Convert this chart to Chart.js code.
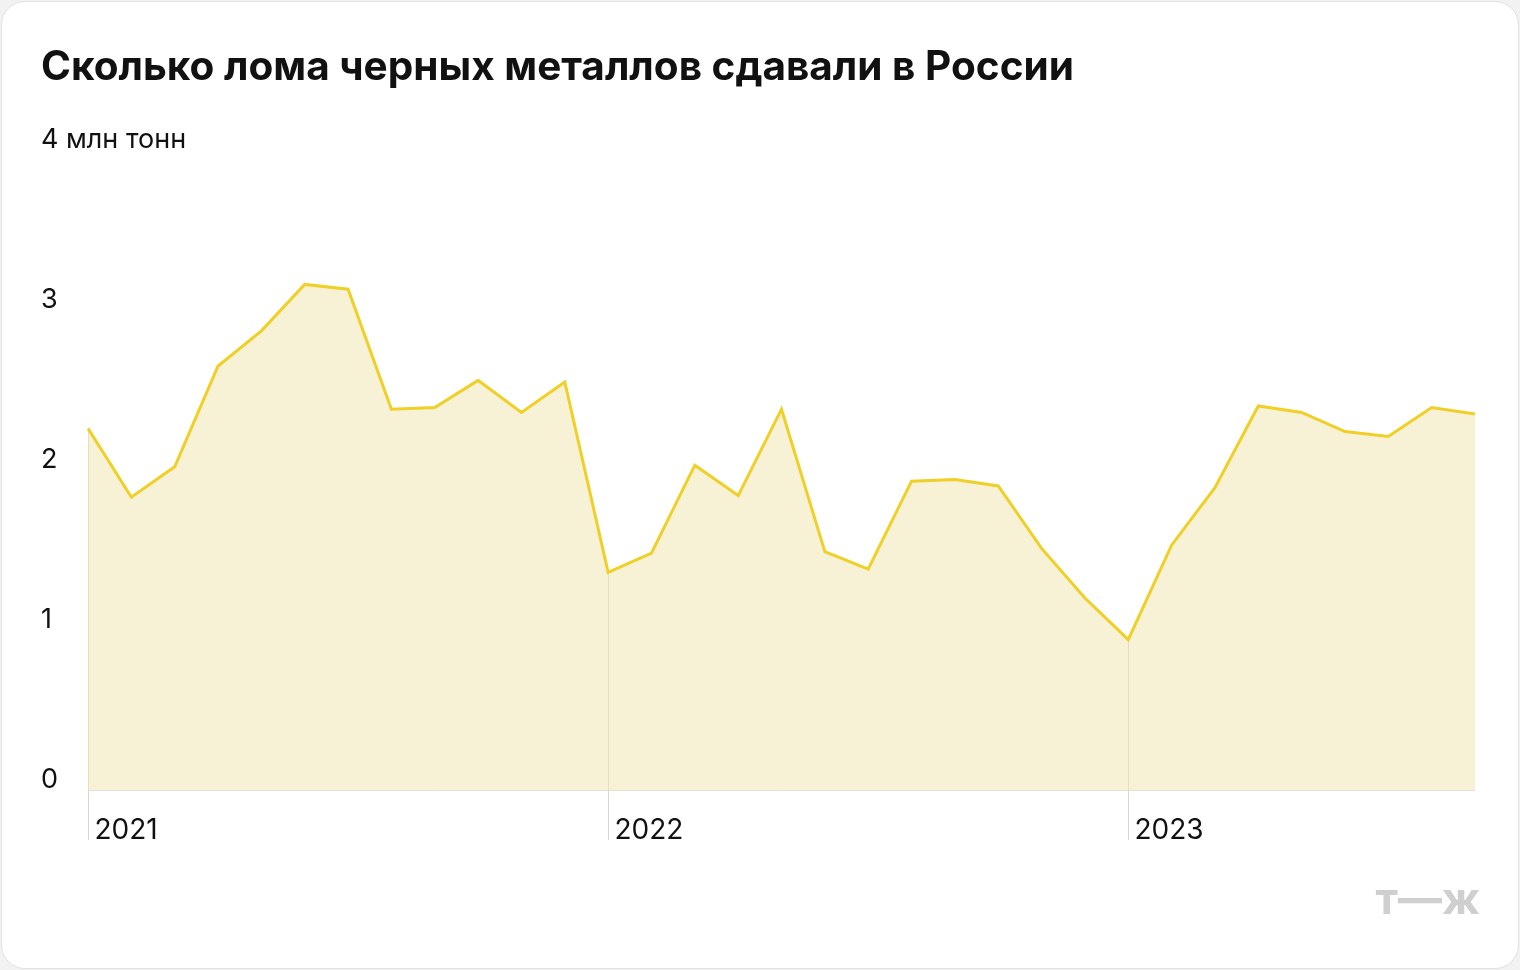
<!DOCTYPE html>
<html>
<head>
<meta charset="utf-8">
<script src="https://cdn.jsdelivr.net/npm/chart.js@4"></script>
<style>
  html, body { margin: 0; background: #f2f2f2; }
  .card { position: absolute; left: 1px; top: 1px; width: 1516px; height: 966px; background: #fff; border: 1px solid #e2e2e2; border-radius: 24px; overflow: hidden; }
  canvas { display: block; }
</style>
</head>
<body>
<div class="card"><canvas id="grafico" width="1516" height="966"></canvas></div>
<script>
// Лом черных металлов, млн тонн, январь 2021 — сентябрь 2023
const meses = [];
const anos = ["2021", "2022", "2023"];
for (let a = 0; a < anos.length; a++) {
  for (let m = 1; m <= 12; m++) meses.push(anos[a] + "-" + String(m).padStart(2, "0"));
}
const valores = [
  2.26, 1.83, 2.02, 2.65, 2.87, 3.16, 3.13, 2.38, 2.39, 2.56, 2.36, 2.55,
  1.36, 1.48, 2.03, 1.84, 2.38, 1.49, 1.38, 1.93, 1.94, 1.90, 1.51, 1.20,
  0.94, 1.53, 1.89, 2.40, 2.36, 2.24, 2.21, 2.39, 2.35
];
const rotulos = meses.slice(0, valores.length);
const marcasY = [0, 1, 2, 3, 4];

const fonte = "Inter, 'Noto Sans', sans-serif";

const desenhoExtra = {
  id: "desenhoExtra",
  beforeDatasetsDraw(chart) {
    const { ctx, chartArea } = chart;
    const x = chart.scales.x, y = chart.scales.y;
    ctx.save();
    ctx.strokeStyle = "#e0e0e0";
    ctx.lineWidth = 1;
    ctx.beginPath();
    ctx.moveTo(chartArea.left, y.getPixelForValue(0) + 0.5);
    ctx.lineTo(chartArea.right, y.getPixelForValue(0) + 0.5);
    ctx.stroke();
    rotulos.forEach((r, i) => {
      if (!r.endsWith("-01")) return;
      const px = Math.round(x.getPixelForValue(i)) + 0.5;
      ctx.strokeStyle = "#d8d8d0";
      ctx.beginPath();
      ctx.moveTo(px, y.getPixelForValue(valores[i]));
      ctx.lineTo(px, y.getPixelForValue(0) + 50);
      ctx.stroke();
      ctx.fillStyle = "#111";
      ctx.font = "28px " + fonte;
      ctx.textBaseline = "alphabetic";
      ctx.fillText(r.slice(0, 4), px + 6, y.getPixelForValue(0) + 49);
    });
    ctx.restore();
  },
  afterDraw(chart) {
    const { ctx } = chart;
    const y = chart.scales.y;
    ctx.save();
    ctx.fillStyle = "#111";
    ctx.font = "bold 40.5px " + fonte;
    ctx.textBaseline = "alphabetic";
    ctx.fillText("Сколько лома черных металлов сдавали в России", 39, 78);
    ctx.font = "27px " + fonte;
    marcasY.forEach(v => {
      const t = v === 4 ? "4 млн тонн" : String(v);
      ctx.fillText(t, 39, y.getPixelForValue(v) - 2);
    });
    ctx.fillStyle = "#cfcfcf";
    ctx.font = "bold 44px " + fonte;
    ctx.textAlign = "right";
    ctx.fillText("т—ж", 1478, 912);
    ctx.restore();
  }
};

new Chart(document.getElementById("grafico"), {
  type: "line",
  data: {
    labels: rotulos,
    datasets: [{
      data: valores,
      borderColor: "#f0d026",
      borderWidth: 3,
      backgroundColor: "rgba(240, 230, 180, 0.55)",
      fill: "origin",
      pointRadius: 0,
      tension: 0
    }]
  },
  options: {
    responsive: false,
    animation: false,
    layout: { padding: { left: 86, right: 43, top: 148, bottom: 178 } },
    plugins: { legend: { display: false }, tooltip: { enabled: false } },
    scales: {
      x: { display: false },
      y: { display: false, min: 0, max: 4 }
    }
  },
  plugins: [desenhoExtra]
});
</script>
</body>
</html>
